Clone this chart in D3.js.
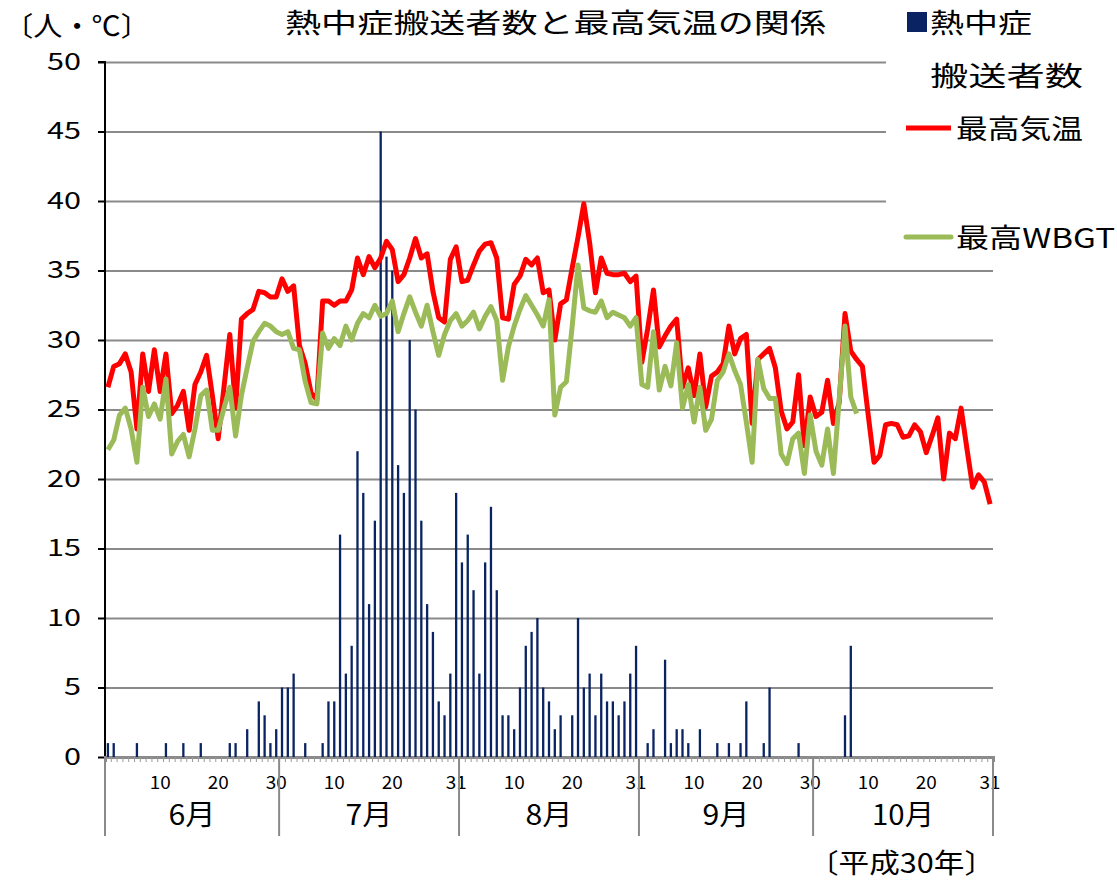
<!DOCTYPE html>
<html>
<head>
<meta charset="utf-8">
<script src="https://cdn.jsdelivr.net/npm/d3@7/dist/d3.min.js"></script>
<style>
body { margin: 0; background: #fff; }
svg text { font-family: "Noto Sans CJK JP", sans-serif; fill: #000; }
</style>
</head>
<body>
<svg id="chart"></svg>
<script>
// months of the season (平成30年 6月-10月)
const months = ['6月', '7月', '8月', '9月', '10月'];
const monthDays = [30, 31, 31, 30, 31];
// day-of-month labels under each month (last = 30 or 31)
const dayTickLabels = [10, 20, 'last'];
const yTicks = [0, 5, 10, 15, 20, 25, 30, 35, 40, 45, 50];

// 熱中症搬送者数 (people / day)
const patients = [
  // Jun
  1, 1, 0, 0, 0, 1, 0, 0, 0, 0, 1, 0, 0, 1, 0, 0, 1, 0, 0, 0, 0, 1, 1, 0, 2, 0, 4, 3, 1, 2,
  // Jul
  5, 5, 6, 0, 1, 0, 0, 1, 4, 4, 16, 6, 8, 22, 19, 11, 17, 45, 36, 35, 21, 19, 30, 25, 17, 11, 9, 4, 3, 6, 19,
  // Aug
  14, 16, 12, 6, 14, 18, 12, 3, 3, 2, 5, 8, 9, 10, 5, 4, 2, 3, 0, 3, 10, 5, 6, 3, 6, 4, 4, 3, 4, 6, 8,
  // Sep
  0, 1, 2, 0, 7, 1, 2, 2, 1, 0, 2, 0, 0, 1, 0, 1, 0, 1, 4, 0, 0, 1, 5, 0, 0, 0, 0, 1, 0, 0,
  // Oct
  0, 0, 0, 0, 0, 3, 8, 0, 0, 0, 0, 0, 0, 0, 0, 0, 0, 0, 0, 0, 0, 0, 0, 0, 0, 0, 0, 0, 0, 0, 0
]

// 最高気温 (℃)
const maxTemp = [
  // Jun
  26.6, 28.1, 28.3, 29.0, 27.7, 23.6, 29.0, 26.3, 29.3, 26.3, 29.0, 24.7, 25.3, 26.3, 23.5,
  26.8, 27.7, 28.9, 26.0, 22.9, 26.6, 30.4, 25.1, 31.5, 31.9, 32.2, 33.5, 33.4, 33.1, 33.1,
  // Jul
  34.4, 33.5, 33.9, 29.6, 28.3, 26.2, 25.7, 32.8, 32.8, 32.5, 32.8, 32.8, 33.6, 35.9, 34.7, 36.0,
  35.2, 35.9, 37.1, 36.5, 34.2, 34.7, 35.9, 37.3, 35.9, 36.2, 33.5, 31.6, 31.3, 35.8, 36.7,
  // Aug
  34.2, 34.3, 35.4, 36.4, 36.9, 37.0, 35.9, 31.6, 31.5, 34.0, 34.6, 35.8, 35.4, 35.9, 33.4, 33.6,
  30.0, 32.6, 32.9, 35.2, 37.4, 39.8, 37.0, 33.4, 35.9, 34.8, 34.7, 34.7, 34.8, 34.2, 34.6,
  // Sep
  28.4, 30.8, 33.6, 29.5, 30.3, 31.0, 31.5, 26.6, 28.0, 26.0, 29.0, 25.2, 27.4, 27.7, 28.3,
  31.0, 29.0, 30.1, 30.4, 24.0, 28.6, 29.0, 29.4, 28.0, 24.9, 23.6, 24.1, 27.5, 22.4, 25.9,
  // Oct
  24.5, 24.8, 27.1, 24.0, 25.5, 31.9, 29.2, 28.6, 28.1, 24.6, 21.2, 21.7, 23.9, 24.0, 23.9, 23.0,
  23.1, 23.9, 23.4, 21.9, 23.1, 24.4, 20.0, 23.3, 22.9, 25.1, 22.2, 19.4, 20.3, 19.8, 18.2
]

// 最高WBGT (℃), recorded until 10/8
const maxWbgt = [
  // Jun
  22.1, 22.8, 24.6, 25.1, 23.6, 21.2, 26.6, 24.5, 25.4, 24.3, 27.2, 21.8, 22.7, 23.2, 21.6,
  23.6, 26.0, 26.4, 23.5, 23.5, 25.1, 26.6, 23.1, 26.0, 28.0, 29.9, 30.6, 31.2, 31.0, 30.6,
  // Jul
  30.4, 30.6, 29.4, 29.3, 27.0, 25.5, 25.4, 30.5, 29.4, 30.1, 29.6, 31.0, 30.0, 31.2, 31.9, 31.6,
  32.5, 31.7, 31.9, 32.8, 30.6, 31.9, 33.1, 32.0, 31.0, 32.5, 30.6, 28.9, 30.4, 31.4, 31.9,
  // Aug
  31.0, 31.4, 32.0, 30.8, 31.7, 32.4, 31.4, 27.1, 29.5, 31.0, 32.2, 33.2, 32.5, 31.8, 31.0, 32.9,
  24.6, 26.6, 27.0, 31.0, 35.4, 32.3, 32.1, 32.0, 32.8, 31.6, 32.0, 31.8, 31.6, 31.0, 31.6,
  // Sep
  26.8, 26.6, 30.6, 26.4, 28.1, 26.7, 29.8, 25.1, 26.8, 24.1, 26.6, 23.5, 24.3, 27.1, 27.7,
  29.0, 27.8, 26.8, 24.1, 21.2, 28.6, 26.5, 25.8, 25.8, 21.8, 21.1, 22.9, 23.3, 20.4, 24.6,
  // Oct
  22.0, 21.0, 23.6, 20.4, 25.7, 31.0, 25.9, 24.7
]

//chart: config
function getConfig(){
    let width = 1117;
    let height = 885;
    let margin = {
        top: 62,
        bottom: 128,
        left: 105,
        right: 124
    }
    let bodyHeight = height - margin.top - margin.bottom
    let bodyWidth = width - margin.left - margin.right

    let container = d3.select('#chart')
        .attr('width', width)
        .attr('height', height)

    return { width, height, margin, bodyHeight, bodyWidth, container }
}

//day index -> month / day-of-month
function getDays(){
    let days = [];
    monthDays.forEach((n, m) => {
        for(let d = 1; d <= n; d++){
            days.push({ idx: days.length + 1, month: m, day: d, last: d === n });
        }
    });
    return days;
}

function getScales(days, config){
    let {margin, bodyWidth, bodyHeight} = config;
    let xBand = d3.scaleBand()
        .domain(days.map(d => d.idx))
        .range([margin.left, margin.left + bodyWidth])
    let xEdge = d3.scaleLinear()
        .domain([0, days.length])
        .range([margin.left, margin.left + bodyWidth])
    let yScale = d3.scaleLinear()
        .domain([0, 50])
        .range([margin.top + bodyHeight, margin.top])
    return {xBand, xEdge, yScale};
}

function drawGridAndAxes(days, scales, config){
    let {xBand, xEdge, yScale} = scales;
    let {container, margin, bodyWidth, bodyHeight} = config;
    let baseY = margin.top + bodyHeight;

    // horizontal grid
    container.append('g')
        .attr('transform', `translate(${margin.left},0)`)
        .call(d3.axisLeft(yScale).tickValues(yTicks.slice(1)).tickSize(-bodyWidth).tickFormat(''))
        .call(g => g.select('.domain').remove())
        .call(g => g.selectAll('line').attr('stroke', '#8a8a8a').attr('stroke-width', 2))

    // y axis (the labels in the picture are a little wide, so stretch them)
    container.append('g')
        .attr('transform', `translate(${margin.left},0)`)
        .call(d3.axisLeft(yScale).tickValues(yTicks).tickSize(7).tickPadding(17))
        .call(g => g.select('.domain').attr('stroke', '#000').attr('stroke-width', 2).attr('d', `M-7,${margin.top}H0V${baseY}`))
        .call(g => g.selectAll('line').attr('stroke', '#000').attr('stroke-width', 2))
        .call(g => g.selectAll('text')
            .attr('font-size', 23)
            .attr('font-family', '"Noto Sans CJK JP", sans-serif')
            .attr('fill', '#000')
            .attr('textLength', d => String(d).length * 17)
            .attr('lengthAdjust', 'spacingAndGlyphs'))

    // x axis: a small tick at every day edge
    container.append('g')
        .attr('transform', `translate(0,${baseY})`)
        .call(d3.axisBottom(xEdge).tickValues(d3.range(0, days.length + 1)).tickSize(5).tickFormat(''))
        .call(g => g.select('.domain').attr('stroke', '#8a8a8a').attr('stroke-width', 3))
        .call(g => g.selectAll('line').attr('stroke', '#9a9a9a').attr('stroke-width', 1))

    // day-of-month labels
    let labelDays = days.filter(d => d.day === 10 || d.day === 20 || d.last);
    container.append('g')
        .attr('transform', `translate(0,${baseY})`)
        .call(d3.axisBottom(xBand).tickValues(labelDays.map(d => d.idx)).tickSize(0).tickPadding(19)
            .tickFormat(i => days[i - 1].day))
        .call(g => g.select('.domain').remove())
        .call(g => g.selectAll('text')
            .attr('font-size', 18)
            .attr('font-family', '"Noto Sans CJK JP", sans-serif')
            .attr('fill', '#000')
            .attr('textLength', 21)
            .attr('lengthAdjust', 'spacingAndGlyphs'))

    // month separators and month names
    let edges = [0].concat(Array.from(d3.cumsum(monthDays)));
    container.append('g').selectAll('line')
        .data(edges)
        .join('line')
        .attr('x1', d => xEdge(d)).attr('x2', d => xEdge(d))
        .attr('y1', baseY).attr('y2', baseY + 79)
        .attr('stroke', '#8a8a8a').attr('stroke-width', 2)

    container.append('g').selectAll('text')
        .data(months)
        .join('text')
        .attr('x', (d, i) => (xEdge(edges[i]) + xEdge(edges[i + 1])) / 2)
        .attr('y', baseY + 68)
        .attr('text-anchor', 'middle')
        .attr('font-size', 28)
        .attr('textLength', d => d.length === 2 ? 47 : 62)
        .attr('lengthAdjust', 'spacingAndGlyphs')
        .text(d => d)
}

function drawBars(days, scales, config){
    let {xBand, yScale} = scales;
    let {container} = config;
    let bw = 2.3;
    container.append('g').selectAll('rect')
        .data(patients)
        .join('rect')
        .attr('x', (d, i) => xBand(i + 1) + xBand.bandwidth() / 2 - bw / 2)
        .attr('y', d => yScale(d))
        .attr('width', bw)
        .attr('height', d => yScale(0) - yScale(d))
        .attr('fill', '#0a2463')
}

function drawLines(scales, config){
    let {xBand, yScale} = scales;
    let {container} = config;
    let lineG = d3.line()
        .x((d, i) => xBand(i + 1) + xBand.bandwidth() / 2)
        .y(d => yScale(d))

    container.append('path')
        .datum(maxTemp)
        .attr('d', lineG)
        .attr('fill', 'none')
        .attr('stroke', '#ff0000')
        .attr('stroke-width', 5)
        .attr('stroke-linejoin', 'round')

    container.append('path')
        .datum(maxWbgt)
        .attr('d', lineG)
        .attr('fill', 'none')
        .attr('stroke', '#9bbb59')
        .attr('stroke-width', 5)
        .attr('stroke-linejoin', 'round')
}

function stretchText(sel, x, y, size, len, str){
    return sel.append('text')
        .attr('x', x).attr('y', y)
        .attr('font-size', size)
        .attr('textLength', len)
        .attr('lengthAdjust', 'spacingAndGlyphs')
        .text(str)
}

function drawLabels(config){
    let {container} = config;
    stretchText(container, 285, 33, 27, 541, '熱中症搬送者数と最高気温の関係')
    stretchText(container, 4, 36, 27, 146, '〔人・℃〕')
    stretchText(container, 808, 873, 27, 187, '〔平成30年〕')

    // legend, on a white box over the upper grid lines
    let legend = container.append('g')
    legend.append('rect')
        .attr('x', 886).attr('y', 0).attr('width', 231).attr('height', 255)
        .attr('fill', '#fff')
    legend.append('rect')
        .attr('x', 907).attr('y', 12).attr('width', 20).attr('height', 20)
        .attr('fill', '#0a2463')
    stretchText(legend, 930, 33, 27, 102, '熱中症')
    stretchText(legend, 930, 86, 27, 153, '搬送者数')
    legend.append('line')
        .attr('x1', 906).attr('x2', 951).attr('y1', 128).attr('y2', 128)
        .attr('stroke', '#ff0000').attr('stroke-width', 5)
    stretchText(legend, 956, 139, 27, 127, '最高気温')
    legend.append('line')
        .attr('x1', 906).attr('x2', 951).attr('y1', 237).attr('y2', 237)
        .attr('stroke', '#9bbb59').attr('stroke-width', 5).attr('stroke-linecap', 'round')
    stretchText(legend, 956, 248, 27, 159, '最高WBGT')
}

function drawChart(){
    let config = getConfig();
    let days = getDays();
    let scales = getScales(days, config);
    drawGridAndAxes(days, scales, config);
    drawBars(days, scales, config);
    drawLines(scales, config);
    drawLabels(config);
}

drawChart();
</script>
</body>
</html>
